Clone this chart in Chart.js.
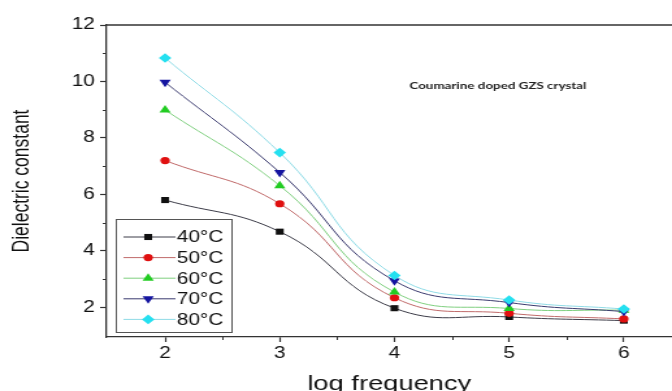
<!DOCTYPE html>
<html>
<head>
<meta charset="utf-8">
<script src="https://cdn.jsdelivr.net/npm/chart.js@4/dist/chart.umd.min.js"></script>
<style>
  html, body { margin: 0; padding: 0; background: #fff; overflow: hidden; }
  /* o canvas é desenhado mais estreito e esticado na horizontal */
  #graficoDieletrico { display: block; transform: scaleX(1.2998); transform-origin: 0 0; }
</style>
</head>
<body>
<canvas id="graficoDieletrico" width="517" height="391"></canvas>
<script>
const logFrequencia = [2, 3, 4, 5, 6];
const temperaturas = ['40°C', '50°C', '60°C', '70°C', '80°C'];
const constante40 = [5.8, 4.68, 1.97, 1.66, 1.53];
const constante50 = [7.2, 5.67, 2.34, 1.79, 1.59];
const constante60 = [8.99, 6.31, 2.54, 1.96, 1.9];
const constante70 = [9.97, 6.78, 2.94, 2.17, 1.85];
const constante80 = [10.83, 7.48, 3.13, 2.26, 1.94];
const ticksX = [2, 3, 4, 5, 6];
const ticksY = [2, 4, 6, 8, 10, 12];
const tituloAmostra = 'Coumarine doped GZS crystal';

const series = [constante40, constante50, constante60, constante70, constante80];
const coresLinha = ['#3c3c48', '#c06a6a', '#7fcf7f', '#3a3a6e', '#8fdbe6'];
const coresMarcador = ['#111111', '#e01010', '#22cc22', '#1515a0', '#25e0f0'];
const estilos = [
    { pointStyle: 'rect', radius: 4.3, rotation: 0 },
    { pointStyle: 'circle', radius: 3.6, rotation: 0 },
    { pointStyle: 'triangle', radius: 5, rotation: 0 },
    { pointStyle: 'triangle', radius: 5, rotation: 180 },
    { pointStyle: 'rectRot', radius: 4.8, rotation: 0 }
];

const corEixo = '#333333';

// moldura de cima, ticks menores, título da amostra e legenda dentro do gráfico
const extras = {
    id: 'extras',
    afterDraw(chart) {
        const { ctx, chartArea: area, scales: { x, y } } = chart;
        ctx.save();

        ctx.strokeStyle = corEixo;
        ctx.lineWidth = 1.3;
        ctx.beginPath();
        ctx.moveTo(area.left, area.top);
        ctx.lineTo(area.right, area.top);
        ctx.stroke();

        ctx.lineWidth = 1;
        ctx.beginPath();
        for (let v = 2.5; v < 6.5; v += 1) {
            const px = Math.round(x.getPixelForValue(v)) + 0.5;
            ctx.moveTo(px, area.bottom);
            ctx.lineTo(px, area.bottom + 3);
        }
        for (let v = 3; v <= 11; v += 2) {
            const py = Math.round(y.getPixelForValue(v)) + 0.5;
            ctx.moveTo(area.left, py);
            ctx.lineTo(area.left - 3, py);
        }
        ctx.stroke();

        ctx.font = 'bold 10.3px Lato';
        ctx.fillStyle = '#222';
        ctx.textBaseline = 'middle';
        ctx.textAlign = 'left';
        ctx.fillText(tituloAmostra, 315, 86);

        // legenda
        const caixa = { left: 89.5, top: 219.5, width: 89, height: 113 };
        ctx.strokeStyle = '#555';
        ctx.lineWidth = 1;
        ctx.fillStyle = '#fff';
        ctx.fillRect(caixa.left, caixa.top, caixa.width, caixa.height);
        ctx.strokeRect(caixa.left, caixa.top, caixa.width, caixa.height);

        ctx.font = '16px Arial, "Liberation Sans"';
        temperaturas.forEach((rotulo, i) => {
            const yLinha = 237 + i * 20.6;
            ctx.strokeStyle = coresLinha[i];
            ctx.lineWidth = 1;
            ctx.beginPath();
            ctx.moveTo(95, yLinha);
            ctx.lineTo(135, yLinha);
            ctx.stroke();

            ctx.fillStyle = coresMarcador[i];
            Chart.helpers.drawPoint(ctx, {
                pointStyle: estilos[i].pointStyle,
                rotation: estilos[i].rotation,
                radius: estilos[i].radius,
                borderWidth: 0
            }, 114, yLinha);

            ctx.fillStyle = '#111';
            ctx.fillText(rotulo, 136, yLinha + 1);
        });

        ctx.restore();
    }
};

const grafico = document.getElementById('graficoDieletrico');

new Chart(grafico, {
    type: 'line',
    data: {
        datasets: series.map((valores, i) => ({
            label: temperaturas[i],
            data: valores.map((v, j) => ({ x: logFrequencia[j], y: v })),
            borderColor: coresLinha[i],
            borderWidth: 1,
            backgroundColor: coresMarcador[i],
            pointBackgroundColor: coresMarcador[i],
            pointBorderColor: coresMarcador[i],
            pointBorderWidth: 0,
            pointStyle: estilos[i].pointStyle,
            pointRadius: estilos[i].radius,
            pointRotation: estilos[i].rotation,
            tension: 0.45,
            fill: false,
            order: series.length - i
        }))
    },
    options: {
        responsive: false,
        animation: false,
        layout: { autoPadding: false, padding: { top: 25, right: 0, left: 0, bottom: 0 } },
        plugins: {
            legend: { display: false },
            tooltip: { enabled: false }
        },
        scales: {
            x: {
                type: 'linear',
                min: 1.49,
                max: 6.42,
                afterBuildTicks: (escala) => { escala.ticks = ticksX.map((v) => ({ value: v })); },
                afterFit: (escala) => { escala.height = 54; },
                grid: { drawOnChartArea: false, tickLength: 5, color: corEixo, tickWidth: 1.2 },
                border: { color: corEixo, width: 1.3 },
                ticks: {
                    padding: 2,
                    color: '#111',
                    font: { family: 'Arial, "Liberation Sans"', size: 16 },
                    maxRotation: 0
                },
                title: {
                    display: true,
                    text: 'log frequency',
                    color: '#111',
                    font: { family: 'Arial, "Liberation Sans"', size: 21 },
                    padding: { top: 0, bottom: -6 }
                }
            },
            y: {
                min: 0.95,
                max: 12,
                afterBuildTicks: (escala) => { escala.ticks = ticksY.map((v) => ({ value: v })); },
                afterFit: (escala) => { escala.width = 82; },
                grid: { drawOnChartArea: false, tickLength: 5, color: corEixo, tickWidth: 1.2 },
                border: { color: corEixo, width: 1.3 },
                ticks: {
                    padding: 4,
                    color: '#111',
                    font: { family: 'Arial, "Liberation Sans"', size: 16 }
                },
                title: {
                    display: true,
                    text: 'Dielectric constant',
                    color: '#111',
                    font: { family: 'Arial, "Liberation Sans"', size: 17.5 },
                    padding: { top: 7, bottom: 0 }
                }
            }
        }
    },
    plugins: [extras]
});
</script>
</body>
</html>
